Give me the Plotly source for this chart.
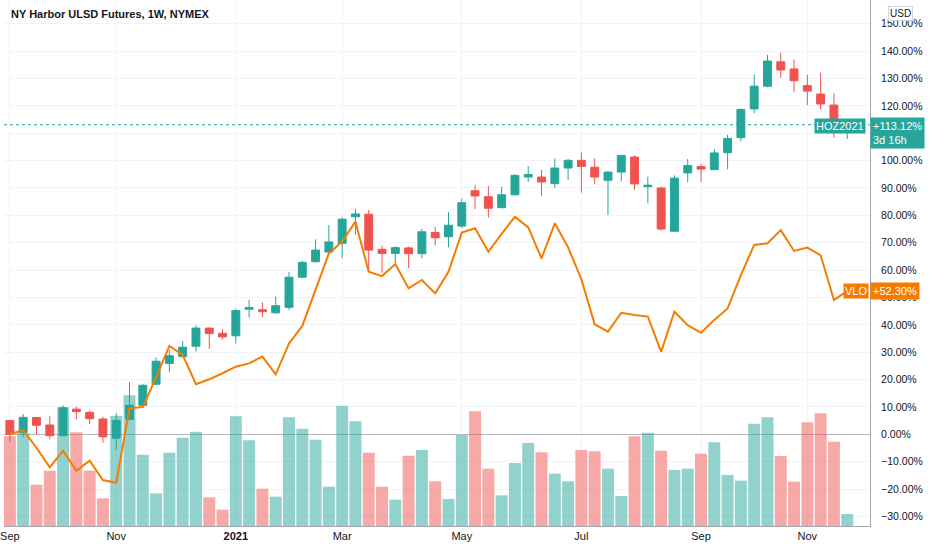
import pandas as pd
import plotly.graph_objects as go

# weekly bars, percent change vs first close (TradingView percent scale)
start_date = "2020-09-07"
n_weeks = 64

ho_open = [5.0, 0.7, 6.1, 3.4, -0.5, 9.2, 8.0, 5.6, -1.4, 5.5, 10.6, 18.3, 25.9, 28.4, 32.2, 38.8,
           36.9, 36.0, 45.7, 45.5, 44.4, 46.4, 57.4, 63.1, 66.6, 69.8, 79.5, 80.4, 67.6, 66.1, 68.1, 66.0,
           73.7, 72.2, 76.1, 89.0, 86.8, 82.8, 87.5, 94.0, 94.0, 91.6, 97.3, 100.1, 97.6, 92.8, 95.8, 101.3,
           90.5, 90.0, 74.2, 95.5, 97.8, 96.7, 102.9, 108.4, 118.9, 127.2, 136.1, 133.5, 127.4, 124.3, 120.3, 111.8]
ho_high = [5.2, 7.4, 6.4, 6.7, 10.6, 10.1, 8.6, 6.4, 7.7, 19.1, 18.4, 28.1, 30.8, 34.1, 39.8, 39.0,
           38.4, 46.0, 49.1, 48.2, 50.3, 59.3, 63.4, 71.2, 76.4, 79.3, 82.4, 82.0, 68.9, 68.7, 68.6, 75.1,
           75.8, 81.2, 86.1, 91.1, 90.7, 90.4, 95.0, 98.0, 96.6, 100.8, 100.7, 103.0, 100.8, 96.2, 102.2, 101.9,
           94.1, 90.5, 94.6, 100.6, 98.8, 104.2, 109.4, 119.0, 131.4, 138.6, 139.4, 137.0, 131.3, 132.1, 124.6, 115.0]
ho_low = [-2.7, -1.1, 0.0, -1.8, -0.5, 5.5, 3.7, -3.1, -5.5, 5.2, 10.3, 18.0, 22.7, 28.1, 30.2, 31.2,
          34.7, 33.2, 42.6, 42.7, 43.9, 45.4, 57.0, 62.6, 66.4, 64.3, 72.9, 60.0, 59.0, 62.5, 60.7, 64.3,
          69.0, 68.3, 75.4, 82.3, 79.1, 82.6, 87.3, 92.2, 87.1, 90.1, 92.9, 88.3, 91.3, 80.1, 92.4, 89.3,
          84.4, 74.4, 74.0, 92.1, 92.1, 96.5, 96.8, 107.1, 117.3, 126.8, 130.2, 125.2, 120.3, 118.7, 108.4, 107.9]
ho_close = [0.0, 6.2, 3.3, -0.5, 9.7, 8.3, 5.7, -0.9, 5.0, 10.6, 17.9, 26.7, 28.7, 31.8, 38.8, 36.8,
            35.6, 45.2, 46.3, 44.8, 47.0, 57.4, 62.8, 67.3, 70.3, 78.6, 80.5, 67.3, 66.1, 68.2, 66.0, 74.0,
            71.8, 76.4, 84.6, 87.1, 82.6, 87.5, 94.6, 94.9, 92.2, 97.3, 100.1, 97.9, 94.0, 95.8, 101.9, 91.5,
            91.0, 75.0, 93.6, 98.2, 96.9, 102.8, 108.1, 118.7, 127.2, 136.4, 133.1, 129.2, 125.4, 120.7, 112.0, 113.12]

vlo = [0.0, 1.5, -4.9, -12.1, -6.0, -13.3, -9.6, -16.7, -17.7, 9.5, 10.0, 20.8, 32.3, 29.0, 18.3, 20.1,
       22.3, 24.7, 25.9, 28.4, 21.9, 33.2, 39.6, 52.7, 66.1, 70.4, 77.7, 59.4, 57.8, 62.2, 53.3, 56.4,
       51.5, 59.4, 73.7, 75.3, 66.7, 73.2, 79.5, 75.6, 64.3, 77.1, 68.3, 56.6, 40.2, 37.5, 44.4, 43.6,
       43.0, 30.1, 44.8, 39.9, 37.1, 41.8, 46.0, 58.2, 69.2, 69.8, 74.6, 67.0, 68.2, 65.4, 49.1, 52.3]

# volume, thousands of contracts (approx)
volume = [269, 279, 124, 166, 356, 281, 166, 83, 331, 392, 214, 98, 220, 265, 283, 86,
          49, 329, 257, 112, 88, 326, 292, 259, 118, 361, 314, 220, 118, 79, 211, 228,
          134, 81, 273, 344, 172, 92, 189, 249, 221, 157, 134, 228, 224, 172, 90, 269,
          280, 226, 168, 172, 217, 251, 153, 136, 307, 326, 210, 133, 311, 338, 253, 36]

month_ticks = ["2020-09-07", "2020-11-02", "2021-01-04", "2021-03-01",
               "2021-05-03", "2021-07-05", "2021-09-06", "2021-11-01"]
month_labels = ["Sep", "Nov", "<b>2021</b>", "Mar", "May", "Jul", "Sep", "Nov"]
pct_ticks = list(range(-30, 151, 10))

UP = "#26a69a"
DOWN = "#ef5350"
VLO_COLOR = "#f57c00"
GRID = "#f0f3fa"
TEXT = "#131722"
FONT = "Liberation Sans, Arial"

dates = pd.date_range(start_date, periods=n_weeks, freq="7D")
vol_colors = ["rgba(38,166,154,0.5)" if c >= o else "rgba(239,83,80,0.5)"
              for o, c in zip(ho_open, ho_close)]

fig = go.Figure()

# volume underneath everything
fig.add_trace(go.Bar(x=dates, y=volume, marker_color=vol_colors, marker_line_width=0,
                     yaxis="y", showlegend=False, hoverinfo="skip"))

fig.add_trace(go.Candlestick(
    x=dates, open=ho_open, high=ho_high, low=ho_low, close=ho_close,
    increasing=dict(line=dict(color=UP, width=1), fillcolor=UP),
    decreasing=dict(line=dict(color=DOWN, width=1), fillcolor=DOWN),
    yaxis="y2", showlegend=False, name="HOZ2021"))

fig.add_trace(go.Scatter(x=dates, y=vlo, mode="lines", line=dict(color=VLO_COLOR, width=2),
                         yaxis="y2", showlegend=False, name="VLO"))

x_left = dates[0] - pd.Timedelta(days=3.1)
x_right = dates[0] + pd.Timedelta(days=453)

fig.update_layout(
    width=932, height=550,
    margin=dict(l=0, r=62, t=0, b=24),
    paper_bgcolor="white", plot_bgcolor="white",
    font=dict(family=FONT, size=11, color=TEXT),
    bargap=0.1,
    boxgap=0.15,
    xaxis=dict(type="date", range=[x_left, x_right], tickvals=month_ticks, ticktext=month_labels,
               showgrid=True, gridcolor=GRID, showline=True, linecolor="#a3a6af", linewidth=1,
               ticks="", ticklabeloverflow="allow", rangeslider=dict(visible=False),
               tickfont=dict(size=11, color=TEXT)),
    yaxis=dict(range=[0, 1578], visible=False, showgrid=False, fixedrange=True),
    yaxis2=dict(overlaying="y", side="right", range=[-33.5, 158.68],
                tickvals=pct_ticks, ticktext=[f"{v:.2f}%".replace("-", "\u2212") for v in pct_ticks],
                showgrid=True, gridcolor=GRID, zeroline=True, zerolinecolor="#b2b5be", zerolinewidth=1,
                showline=True, linecolor="#a3a6af", linewidth=1, ticks="",
                ticklabelstandoff=8, tickfont=dict(size=10.5, color=TEXT)),
    hovermode=False,
)

# last price dotted line
fig.add_shape(type="line", xref="paper", x0=0, x1=1, yref="y2", y0=ho_close[-1], y1=ho_close[-1],
              line=dict(color=UP, width=1, dash="dot"))

# title
fig.add_annotation(text="NY Harbor ULSD Futures, 1W, NYMEX", xref="paper", yref="paper",
                   x=0, y=1, xanchor="left", yanchor="top", xshift=5, yshift=-6, showarrow=False,
                   font=dict(size=11, color=TEXT, family=FONT, weight=600))

# price labels on the axis
fig.add_annotation(text="HOZ2021", xref="paper", yref="y2", x=1, y=ho_close[-1], xanchor="right",
                   xshift=-4, yshift=-1, showarrow=False, bgcolor=UP, borderpad=1,
                   font=dict(color="white", size=11))
fig.add_annotation(text=f"+{ho_close[-1]:.2f}%<br>3d 16h", xref="paper", yref="y2", x=1,
                   y=ho_close[-1], xanchor="left", yanchor="top", yshift=8, showarrow=False,
                   bgcolor=UP, borderpad=2, align="left", font=dict(color="white", size=11))
fig.add_annotation(text="VLO", xref="paper", yref="y2", x=1, y=vlo[-1], xanchor="right",
                   xshift=-1, showarrow=False, bgcolor=VLO_COLOR, borderpad=1,
                   font=dict(color="white", size=11))
fig.add_annotation(text=f"+{vlo[-1]:.2f}%", xref="paper", yref="y2", x=1, y=vlo[-1], xanchor="left",
                   showarrow=False, bgcolor=VLO_COLOR, borderpad=2, font=dict(color="white", size=11))

# currency badge
fig.add_annotation(text="USD", xref="paper", yref="paper", x=1, y=1, xanchor="left", yanchor="top",
                   xshift=18, yshift=-6, showarrow=False, bgcolor="white", bordercolor="#d1d4dc",
                   borderwidth=1, borderpad=1, font=dict(size=10, color=TEXT))

# page has a default body margin; drop it so the chart sits at the window corner
fig.write_html("out.html", config={"displayModeBar": False},
               post_script="document.body.style.margin='0';")
